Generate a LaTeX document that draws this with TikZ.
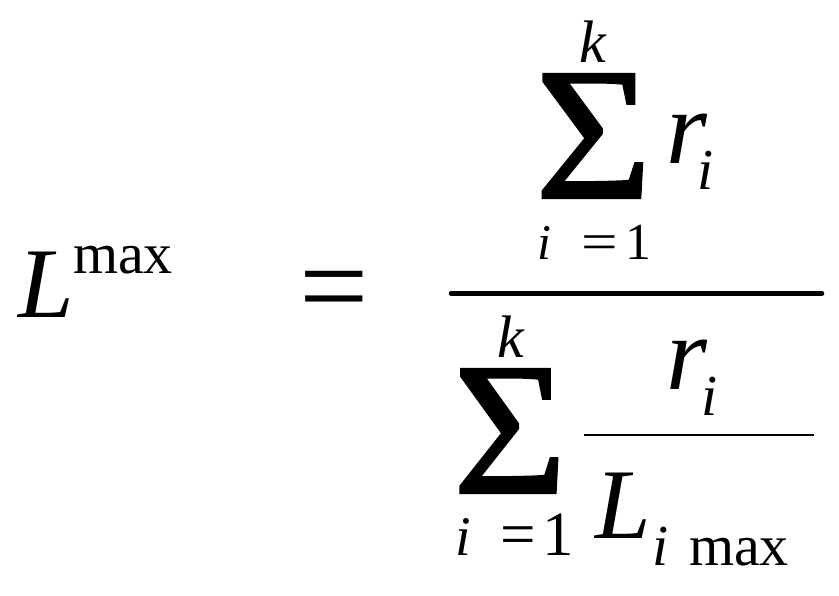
\documentclass[tikz,border=0pt]{standalone}
\usepackage{fontspec}
\setmainfont{Liberation Serif}
\newfontfamily\sigfont[FakeBold=1.3]{Liberation Serif}
\usepackage{graphicx}
\tikzset{
  txt/.style={inner sep=0pt, outer sep=0pt, anchor=base west},
  fs/.style={font=\fontsize{#1}{#1}\selectfont},
  it/.style={font=\fontsize{#1}{#1}\selectfont\itshape},
}
\begin{document}
\begin{tikzpicture}[x=1pt,y=-1pt]
\useasboundingbox[fill=white] (0,0) rectangle (839,596);
% left side
\node[txt, it=100] (Lbig) at (19,318) {L};
\node[txt, fs=58] (max1) at (73,274) {max};
\node[txt, fs=123] (eq) at (299,328) {=};
% numerator
\node[txt, it=60] (k1) at (579,63) {k};
\node[txt] (sig1) at (535,198) {\resizebox{117pt}{124pt}{\fontsize{100}{100}\sigfont Σ}};
\node[txt, it=105] (r1) at (666,164) {r};
\node[txt, it=58] (i1) at (697,190) {i};
\node[txt, it=50] (il1) at (537,260) {i};
\node[txt, fs=52] (eql1) at (581,260) {\scalebox{1.25}[1]{=}};
\node[txt, fs=52] (one1) at (625,260) {1};
% main fraction bar
\coordinate (barL) at (451,293.5);
\coordinate (barR) at (822,293.5);
\draw[line width=4.5pt, line cap=round] (barL) -- (barR);
% denominator
\node[txt, it=60] (k2) at (497,358) {k};
\node[txt] (sig2) at (453,493) {\resizebox{114pt}{124pt}{\fontsize{100}{100}\sigfont Σ}};
\node[txt, it=105] (r2) at (666,390) {r};
\node[txt, it=58] (i2) at (701,415) {i};
\coordinate (sbarL) at (584,435);
\coordinate (sbarR) at (814,435);
\draw[line width=2pt] (sbarL) -- (sbarR);
\node[txt, it=100] (L2) at (595,538) {L};
\node[txt, it=58] (i3) at (652,565) {i};
\node[txt, fs=58] (max2) at (689,565) {max};
\node[txt, it=56] (il2) at (455,555) {i};
\node[txt, fs=63] (eql2) at (500,555) {=};
\node[txt, fs=63] (one2) at (542,555) {1};
\end{tikzpicture}
\end{document}
